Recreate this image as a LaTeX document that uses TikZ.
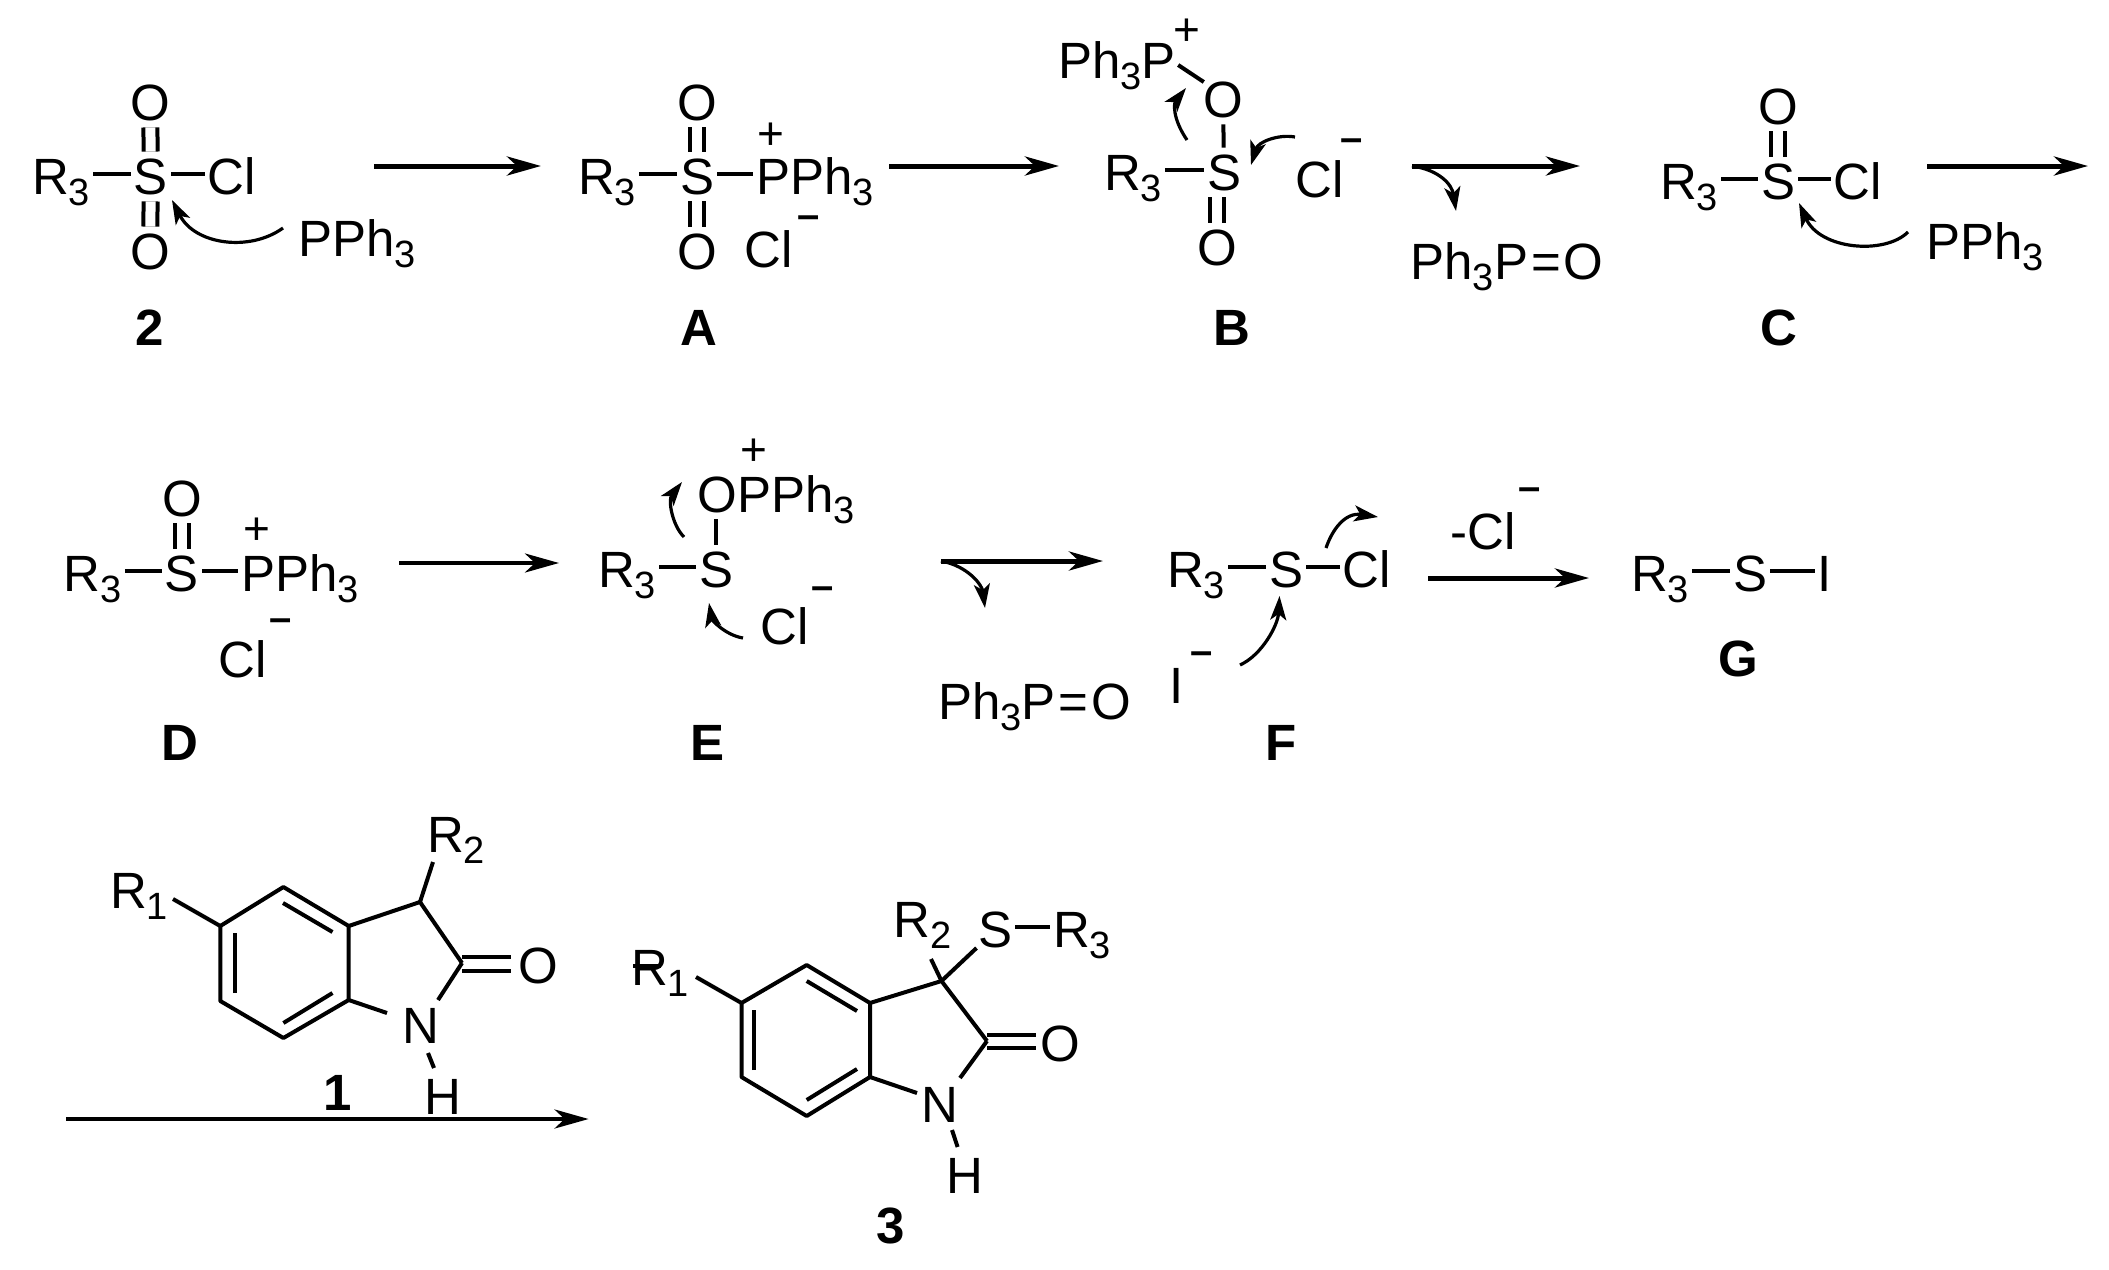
\documentclass[tikz,border=0pt]{standalone}
\usepackage{fontspec}
\setmainfont{Liberation Sans}
\usetikzlibrary{arrows.meta,calc}
\newcommand{\sbs}[1]{\raisebox{-5.5pt}{\fontsize{19pt}{19pt}\selectfont #1}}
\newcommand{\peq}{Ph\sbs{3}P\kern1.5pt=\kern1.5pt O}
\tikzset{
  atom/.style={anchor=base,inner xsep=1.5pt,inner ysep=3.5pt,text height=20pt,text depth=0pt,font=\fontsize{25.5pt}{30pt}\selectfont},
  cmpd/.style={anchor=base,inner sep=0pt,font=\fontsize{25.5pt}{30pt}\selectfont\bfseries},
  charge/.style={anchor=center,inner sep=0pt,font=\fontsize{23pt}{26pt}\selectfont},
  minus/.style={anchor=center,inner sep=0pt,font=\fontsize{20pt}{24pt}\selectfont\bfseries},
  bond/.style={line width=2pt},
  vb/.style={bond,shorten >=-2.5pt},
  dbl/.style={line width=2pt,double,double distance=5pt,shorten >=-2.5pt},
  rarrow/.style={line width=2.5pt,-{Stealth[length=17pt,width=9.5pt,inset=5pt]}},
  tarrow/.style={line width=2pt,-{Stealth[length=17pt,width=9.5pt,inset=5pt]}},
  curly/.style={line width=1.6pt,-{Stealth[length=12pt,width=8pt,inset=3pt]}},
}
\begin{document}
\begin{tikzpicture}[x=0.5pt,y=-0.5pt]
\useasboundingbox (0,0) rectangle (2109,1269);
% --- compound 2
\node[atom] (r2) at (61,194) {R\sbs{3}};
\node[atom] (s2) at (151,194) {S};
\node[atom] (cl2) at (232,194) {Cl};
\node[atom] (o2a) at (150,120) {O};
\node[atom] (o2b) at (150,269) {O};
\node[atom] (p2) at (357,256) {PPh\sbs{3}};
\node[cmpd] (l2) at (150,345) {2};
\draw[bond] (r2) -- (s2);
\draw[bond] (s2) -- (cl2);
\draw[dbl] (o2a) -- (s2);
\draw[dbl] (s2) -- (o2b);
\coordinate (c2s) at (283,228); \coordinate (c2e) at (172,200);
\draw[curly] (c2s) .. controls (250,252) and (195,245) .. (c2e);
% arrow
\coordinate (a1s) at (374,166); \coordinate (a1e) at (541,166);
\draw[rarrow] (a1s) -- (a1e);
% --- A
\node[atom] (ra) at (607,194) {R\sbs{3}};
\node[atom] (sa) at (697,194) {S};
\node[atom] (pa) at (815,194) {PPh\sbs{3}};
\node[atom] (oaa) at (697,120) {O};
\node[atom] (oab) at (697,269) {O};
\node[atom] (cla) at (769,267) {Cl};
\node[charge] (pla) at (771,136) {+};
\node[minus] (mia) at (809,222) {–};
\node[cmpd] (la) at (699,345) {A};
\draw[bond] (ra) -- (sa);
\draw[bond] (sa) -- (pa);
\draw[dbl] (oaa) -- (sa);
\draw[dbl] (sa) -- (oab);
\coordinate (a2s) at (889,166); \coordinate (a2e) at (1059,166);
\draw[rarrow] (a2s) -- (a2e);
% --- B
\node[atom] (rb) at (1133,190) {R\sbs{3}};
\node[atom] (sb) at (1224,190) {S};
\node[atom] (oba) at (1223,117) {O};
\node[atom] (obb) at (1217,265) {O};
\node[atom] (phb) at (1117,78) {Ph\sbs{3}P};
\node[atom] (clb) at (1320,197) {Cl};
\node[charge] (plb) at (1187,32) {+};
\node[minus] (mib) at (1352,145) {–};
\node[cmpd] (lb) at (1232,345) {B};
\draw[bond] (rb) -- (sb);
\draw[vb] (oba) -- (sb);
\draw[dbl] (obb.north |- sb.south) -- (obb.north);
\draw[bond] ($(phb.east)+(-1,7)$) -- ($(oba.west)+(4,-15)$);
\coordinate (c3s) at (1187,140); \coordinate (c3e) at (1186,88);
\draw[curly] (c3s) .. controls (1172,118) and (1174,103) .. (c3e);
\coordinate (c4s) at (1295,137); \coordinate (c4e) at (1251,165);
\draw[curly] (c4s) .. controls (1278,134) and (1258,142) .. (c4e);
\coordinate (a3s) at (1412,166); \coordinate (a3e) at (1580,166);
\draw[rarrow] (a3s) -- (a3e);
\coordinate (c5e) at (1456,211);
\draw[curly] (a3s) .. controls (1440,170) and (1452,185) .. (c5e);
\node[atom] (pob) at (1507,279) {\peq};
% --- C
\node[atom] (rc) at (1689,199) {R\sbs{3}};
\node[atom] (sc) at (1778,199) {S};
\node[atom] (clc) at (1858,199) {Cl};
\node[atom] (oc) at (1778,124) {O};
\node[atom] (pc) at (1985,259) {PPh\sbs{3}};
\node[cmpd] (lc) at (1779,345) {C};
\draw[bond] (rc) -- (sc);
\draw[bond] (sc) -- (clc);
\draw[dbl] (oc) -- (sc);
\coordinate (c6s) at (1908,232); \coordinate (c6e) at (1799,203);
\draw[curly] (c6s) .. controls (1885,255) and (1820,250) .. (c6e);
\coordinate (a4s) at (1927,166); \coordinate (a4e) at (2088,166);
\draw[rarrow] (a4s) -- (a4e);
% --- D
\node[atom] (rd) at (92.5,591) {R\sbs{3}};
\node[atom] (sd) at (182,591) {S};
\node[atom] (pd) at (300,591) {PPh\sbs{3}};
\node[atom] (od) at (182,516) {O};
\node[atom] (cld) at (243,677) {Cl};
\node[charge] (pld) at (257,531) {+};
\node[minus] (mid) at (281,625) {–};
\node[cmpd] (ld) at (180,760) {D};
\draw[bond] (rd) -- (sd);
\draw[bond] (sd) -- (pd);
\draw[dbl] (od) -- (sd);
\coordinate (a5s) at (399,563); \coordinate (a5e) at (559,563);
\draw[tarrow] (a5s) -- (a5e);
% --- E
\node[atom] (re) at (627,587) {R\sbs{3}};
\node[atom] (se) at (716,587) {S};
\node[atom] (oe) at (776,512) {OPPh\sbs{3}};
\node[atom] (cle) at (785,644) {Cl};
\node[charge] (ple) at (754,452) {+};
\node[minus] (mie) at (823,593) {–};
\node[cmpd] (le) at (707,760) {E};
\draw[bond] (re) -- (se);
\draw[vb] (se.north |- oe.south) -- (se.north);
\coordinate (c7s) at (684,537); \coordinate (c7e) at (682,482);
\draw[curly] (c7s) .. controls (672,525) and (668,500) .. (c7e);
\coordinate (c8s) at (743,638); \coordinate (c8e) at (709,603);
\draw[curly] (c8s) .. controls (725,635) and (712,620) .. (c8e);
\coordinate (a6s) at (941,561); \coordinate (a6e) at (1103,561);
\draw[rarrow] (a6s) -- (a6e);
\coordinate (c9e) at (985,608);
\draw[curly] (a6s) .. controls (968,566) and (982,585) .. (c9e);
\node[atom] (poe) at (1034.5,719) {\peq};
% --- F
\node[atom] (rf) at (1196,587) {R\sbs{3}};
\node[atom] (sf) at (1286,587) {S};
\node[atom] (clf) at (1367,587) {Cl};
\node[atom] (if) at (1177,703) {I};
\node[minus] (mif) at (1202,658) {–};
\node[cmpd] (lf) at (1281,760) {F};
\draw[bond] (rf) -- (sf);
\draw[bond] (sf) -- (clf);
\coordinate (c10s) at (1326,548); \coordinate (c10e) at (1378,517);
\draw[curly] (c10s) .. controls (1332,530) and (1345,512) .. (c10e);
\coordinate (c11s) at (1240,665); \coordinate (c11e) at (1279.5,596);
\draw[curly] (c11s) .. controls (1262,655) and (1278,625) .. (c11e);
\coordinate (a7s) at (1428,578); \coordinate (a7e) at (1589,578);
\draw[rarrow] (a7s) -- (a7e);
\node[atom] (lcl) at (1483,549) {-Cl};
\node[minus] (milc) at (1530,494) {–};
% --- G
\node[atom] (rg) at (1660,591) {R\sbs{3}};
\node[atom] (sg) at (1750,591) {S};
\node[atom] (ig) at (1825,591) {I};
\node[cmpd] (lg) at (1738,676) {G};
\draw[bond] (rg) -- (sg);
\draw[bond] (sg) -- (ig);
% --- compound 1
\coordinate (a1) at (283.4,887); \coordinate (a2) at (348.7,926); \coordinate (a3) at (348.7,1000);
\coordinate (a4) at (283.4,1038); \coordinate (a5) at (220.3,1001); \coordinate (a6) at (220.3,926);
\coordinate (a7) at (420,902); \coordinate (a8) at (462,963);
\draw[bond,line join=round] (a1) -- (a2) -- (a3) -- (a4) -- (a5) -- (a6) -- cycle;
\draw[bond] (a2) -- (a7) -- (a8);
\coordinate (ai1) at (283,903); \coordinate (ai2) at (332.5,932); \coordinate (ai3) at (332.5,993);
\coordinate (ai4) at (283.4,1023); \coordinate (ai5) at (235,993); \coordinate (ai6) at (235,933);
\draw[bond] (ai1) -- (ai2);
\draw[bond] (ai3) -- (ai4);
\draw[bond] (ai5) -- (ai6);
\node[atom] (n1) at (421,1043) {N};
\node[atom] (o1) at (538,983) {O};
\node[atom] (r21) at (456,852) {R\sbs{2}};
\node[atom] (r11) at (139,908) {R\sbs{1}};
\node[atom] (h1) at (443,1114) {H};
\node[cmpd] (l1) at (338,1110) {1};
\coordinate (b1) at (433,862); \coordinate (b2) at (173,899); \coordinate (b3) at (387,1013);
\coordinate (b4) at (438,1000); \coordinate (b5) at (428,1053); \coordinate (b6) at (434,1068);
\coordinate (b7) at (462,957); \coordinate (b8) at (511,957); \coordinate (b9) at (462,971); \coordinate (b10) at (511,971);
\draw[bond] (a7) -- (b1);
\draw[bond] (a6) -- (b2);
\draw[bond] (a3) -- (b3);
\draw[bond] (a8) -- (b4);
\draw[bond] (b5) -- (b6);
\draw[bond] (b7) -- (b8);
\draw[bond] (b9) -- (b10);
\coordinate (a8s) at (66,1119); \coordinate (a8e) at (588.6,1119);
\draw[tarrow] (a8s) -- (a8e);
% --- compound 3
\coordinate (d1) at (806.7,965); \coordinate (d2) at (870,1003); \coordinate (d3) at (870,1077);
\coordinate (d4) at (806.7,1116); \coordinate (d5) at (741.5,1077); \coordinate (d6) at (741.5,1003);
\coordinate (d7) at (941.5,981); \coordinate (d8) at (987,1041);
\draw[bond,line join=round] (d1) -- (d2) -- (d3) -- (d4) -- (d5) -- (d6) -- cycle;
\draw[bond] (d2) -- (d7) -- (d8);
\coordinate (di1) at (806.7,981); \coordinate (di2) at (857,1011); \coordinate (di3) at (857,1069);
\coordinate (di4) at (806.7,1100); \coordinate (di5) at (754,1070); \coordinate (di6) at (754,1010);
\draw[bond] (di1) -- (di2);
\draw[bond] (di3) -- (di4);
\draw[bond] (di5) -- (di6);
\node[atom] (n3) at (940,1122) {N};
\node[atom] (o3) at (1060.5,1061) {O};
\node[atom] (r23) at (922.5,937) {R\sbs{2}};
\node[atom] (s3) at (995,947) {S};
\node[atom] (r33) at (1082,947) {R\sbs{3}};
\node[atom] (r13) at (660,985) {R\sbs{1}};
\node[atom] (h3) at (964.5,1193) {H};
\node[cmpd] (l3) at (891,1243) {3};
\coordinate (e1) at (931,959); \coordinate (e2) at (976.5,948); \coordinate (e3) at (696,977);
\coordinate (e4) at (917,1093); \coordinate (e5) at (960,1078); \coordinate (e6) at (952,1130); \coordinate (e7) at (957.6,1147);
\coordinate (e8) at (987,1035); \coordinate (e9) at (1036,1035); \coordinate (e10) at (987,1048); \coordinate (e11) at (1036,1048);
\coordinate (e12) at (633,966); \coordinate (e13) at (661,966);
\draw[bond] (d7) -- (e1);
\draw[bond] (d7) -- (e2);
\draw[bond] (d6) -- (e3);
\draw[bond] (d3) -- (e4);
\draw[bond] (d8) -- (e5);
\draw[bond] (e6) -- (e7);
\draw[bond] (e8) -- (e9);
\draw[bond] (e10) -- (e11);
\draw[bond] (e12) -- (e13);
\draw[bond] (s3) -- (r33);
\end{tikzpicture}
\end{document}
